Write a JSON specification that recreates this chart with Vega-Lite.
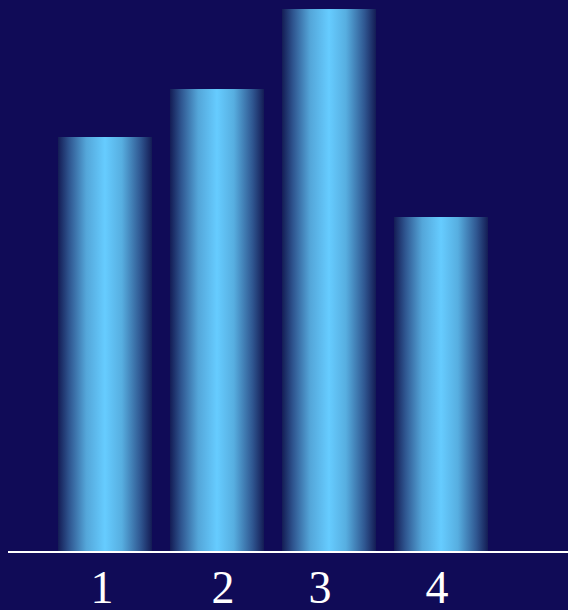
{
  "$schema": "https://vega.github.io/schema/vega-lite/v6.json",
  "width": 560,
  "height": 552,
  "autosize": "none",
  "padding": {"left": 8, "top": 0, "right": 0, "bottom": 58},
  "background": "#100b57",
  "config": {"view": {"stroke": null}},
  "data": {
    "values": [
      {"category": "1", "value": 415},
      {"category": "2", "value": 463},
      {"category": "3", "value": 543},
      {"category": "4", "value": 335}
    ]
  },
  "layer": [
    {
      "mark": {
        "type": "bar",
        "color": {
          "gradient": "linear",
          "x1": 0, "y1": 0, "x2": 1, "y2": 0,
          "stops": [
            {"offset": 0, "color": "#141c55"},
            {"offset": 0.12, "color": "#2f5690"},
            {"offset": 0.3, "color": "#54a6d9"},
            {"offset": 0.5, "color": "#66ccff"},
            {"offset": 0.68, "color": "#57aee0"},
            {"offset": 0.88, "color": "#2f5690"},
            {"offset": 1, "color": "#141c55"}
          ]
        }
      },
      "encoding": {
        "x": {
          "field": "category",
          "type": "ordinal",
          "scale": {"range": [50, 480], "paddingInner": 0.161, "paddingOuter": 0},
          "axis": {
            "title": null,
            "domain": false,
            "ticks": false,
            "labelAngle": 0,
            "labelFont": "Liberation Serif",
            "labelFontSize": 46,
            "labelColor": "#ffffff",
            "labelPadding": 14,
            "labelOffset": {"expr": "datum.value == '1' ? -3 : datum.value == '2' ? 6 : datum.value == '3' ? -9 : -4"}
          }
        },
        "y": {
          "field": "value",
          "type": "quantitative",
          "scale": {"domain": [0, 552], "nice": false},
          "axis": null
        }
      }
    },
    {
      "mark": {"type": "rule", "color": "#ffffff", "strokeWidth": 2, "opacity": 0.9},
      "encoding": {"y": {"datum": 0}}
    }
  ]
}
